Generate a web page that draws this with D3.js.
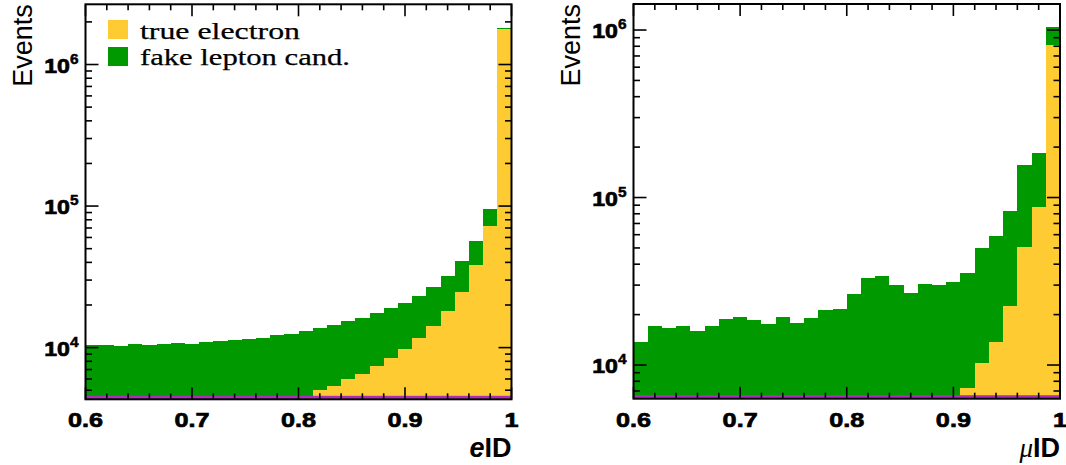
<!DOCTYPE html>
<html>
<head>
<meta charset="utf-8">
<script src="https://cdn.jsdelivr.net/npm/d3@7"></script>
<style>
  body { margin: 0; background: #fff; }
  svg { display: block; }
  .sans { font-family: 'Liberation Sans', Arial, Helvetica, sans-serif; }
  .serif { font-family: 'Liberation Serif', 'Times New Roman', serif; }
  .heavy { font-weight: 700; stroke: #000; stroke-width: 0.7px; }
</style>
</head>
<body>
<svg width="1066" height="465"></svg>
<script>
// binning: 30 equal bins from 0.6 to 1.0 (both panels)
var xMin = 0.6, xMax = 1.0, nBins = 30;

// electron ID panel, counts per bin (0 = below the visible range)
var eTrue = [0, 0, 0, 0, 0, 0, 0, 0, 0, 0,
             0, 0, 0, 0, 0, 4500, 5020, 5355, 5970, 6475,
             7413, 8445, 9775, 11630, 14280, 18140, 24710, 38140, 72650, 1790000];
var eFake = [10380, 10430, 10310, 10550, 10430, 10600, 10780, 10660, 10900, 11130,
             11250, 11560, 11630, 12210, 12410, 8670, 8740, 9085, 9360, 9715,
             10057, 10605, 10885, 11630, 12660, 14070, 16000, 18490, 22670, 30000];

// muon ID panel
var muTrue = [0, 0, 0, 0, 0, 0, 0, 0, 0, 0,
              0, 0, 0, 0, 0, 0, 0, 0, 0, 0,
              0, 0, 0, 7320, 10240, 13780, 22500, 50400, 87400, 812000];
var muFake = [13720, 17020, 16560, 17180, 15960, 17100, 18820, 19260, 18480, 17650,
              19260, 17810, 18990, 21200, 21670, 26700, 32900, 33850, 30170, 26800,
              30450, 29900, 31440, 28240, 39860, 45120, 60900, 105900, 96200, 226000];

var xTicks = [0.6, 0.7, 0.8, 0.9, 1];
var yTicks = [1e4, 1e5, 1e6];
var legendLabels = ["true electron", "fake lepton cand."];

var colTrue = "#fecb33", colFake = "#009900", colLine = "#b02cc0";

var svg = d3.select("svg");
var edges = d3.range(nBins + 1).map(function(i) { return xMin + i * (xMax - xMin) / nBins; });

function drawPanel(p) {
	var x = d3.scaleLinear().domain([xMin, xMax]).range([p.x0, p.x1]);
	var y = d3.scaleLog().domain([p.ymin, p.ymax]).range([p.y1, p.y0]);
	var g = svg.append("g");

	var bins = edges.slice(0, nBins).map(function(e, i) {
		return {lo: e, hi: edges[i + 1], t: p.trueVals[i], f: p.fakeVals[i]};
	});

	var bars = g.append("g").attr("shape-rendering", "crispEdges");
	// stacked: fake on top of true
	bars.selectAll("rect.fake")
		.data(bins)
		.enter().append("rect")
		.attr("class", "fake")
		.attr("x", function(d) { return x(d.lo); })
		.attr("width", function(d) { return x(d.hi) - x(d.lo); })
		.attr("y", function(d) { return y(d.t + d.f); })
		.attr("height", function(d) { return p.y1 - y(d.t + d.f); })
		.attr("fill", colFake);

	bars.selectAll("rect.true")
		.data(bins.filter(function(d) { return d.t > p.ymin; }))
		.enter().append("rect")
		.attr("class", "true")
		.attr("x", function(d) { return x(d.lo); })
		.attr("width", function(d) { return x(d.hi) - x(d.lo); })
		.attr("y", function(d) { return y(d.t); })
		.attr("height", function(d) { return p.y1 - y(d.t); })
		.attr("fill", colTrue);

	// thin purple histogram sitting on the bottom edge
	g.append("rect")
		.attr("x", p.x0).attr("width", p.x1 - p.x0)
		.attr("y", p.y1 - 3.5).attr("height", 3)
		.attr("fill", colLine);

	// ticks, drawn inward on all four sides
	var tk = g.append("g").attr("stroke", "#000").attr("stroke-width", 1.6);
	var xMinor = d3.range(0, 21).map(function(i) { return xMin + i * 0.02; });
	xMinor.forEach(function(v) {
		var major = xTicks.some(function(t) { return Math.abs(t - v) < 1e-6; });
		var len = major ? 12 : 6;
		tk.append("line").attr("x1", x(v)).attr("x2", x(v)).attr("y1", p.y1).attr("y2", p.y1 - len);
		tk.append("line").attr("x1", x(v)).attr("x2", x(v)).attr("y1", p.y0).attr("y2", p.y0 + len);
	});
	var yMinor = [];
	[1e3, 1e4, 1e5, 1e6].forEach(function(dec) {
		for (var k = 1; k <= 9; k++) {
			var v = k * dec;
			if (v >= p.ymin && v <= p.ymax) yMinor.push({v: v, major: k === 1});
		}
	});
	yMinor.forEach(function(d) {
		var len = d.major ? 13 : 6.5;
		tk.append("line").attr("x1", p.x0).attr("x2", p.x0 + len).attr("y1", y(d.v)).attr("y2", y(d.v));
		tk.append("line").attr("x1", p.x1).attr("x2", p.x1 - len).attr("y1", y(d.v)).attr("y2", y(d.v));
	});

	// frame
	g.append("rect")
		.attr("x", p.x0).attr("y", p.y0)
		.attr("width", p.x1 - p.x0).attr("height", p.y1 - p.y0)
		.attr("fill", "none").attr("stroke", "#000").attr("stroke-width", 2);

	// x tick labels (slightly wide, as in the original)
	g.selectAll("text.xl")
		.data(xTicks)
		.enter().append("text")
		.attr("class", "sans heavy")
		.attr("transform", function(d) { return "translate(" + x(d) + ",427) scale(1.2,1)"; })
		.attr("text-anchor", "middle")
		.style("font-size", "21px")
		.text(function(d) { return d; });

	// y tick labels 10^n
	var yl = g.selectAll("text.yl")
		.data(yTicks.filter(function(v) { return v >= p.ymin && v <= p.ymax; }))
		.enter().append("text")
		.attr("class", "sans heavy")
		.attr("transform", function(d) { return "translate(" + (p.x0 - 7) + "," + (y(d) + 8) + ") scale(1.1,1)"; })
		.attr("text-anchor", "end")
		.style("font-size", "21px");
	yl.append("tspan").text("10");
	yl.append("tspan")
		.style("font-size", "14px")
		.style("stroke-width", "0.5px")
		.attr("dy", -9)
		.text(function(d) { return Math.round(Math.log10(d)); });

	// axis titles
	g.append("text")
		.attr("class", "sans")
		.attr("transform", "translate(" + (p.x0 - 53.5) + "," + (p.y0) + ") rotate(-90)")
		.attr("text-anchor", "end")
		.style("font-size", "27px")
		.text("Events");

	var xt = g.append("text")
		.attr("class", "sans")
		.attr("x", p.x1)
		.attr("y", 457)
		.attr("text-anchor", "end")
		.style("font-weight", "700")
		.style("font-size", "27px");
	if (p.mu) {
		xt.append("tspan")
			.attr("class", "serif")
			.style("font-weight", "400")
			.style("font-style", "italic")
			.text("\u03bc");
	} else {
		xt.append("tspan").style("font-style", "italic").text("e");
	}
	xt.append("tspan").text("ID");
}

drawPanel({x0: 85.5, x1: 511.5, y0: 4.3, y1: 399.3, ymin: 4313, ymax: 2.663e6,
	trueVals: eTrue, fakeVals: eFake, mu: false});
drawPanel({x0: 633.5, x1: 1060, y0: 4, y1: 398.7, ymin: 6295, ymax: 1.43e6,
	trueVals: muTrue, fakeVals: muFake, mu: true});

// legend (left panel)
var leg = svg.append("g");
var legCols = [colTrue, colFake];
var legWidths = [160, 210];
leg.selectAll("rect")
	.data(legendLabels)
	.enter().append("rect")
	.attr("x", 108)
	.attr("y", function(d, i) { return 20 + i * 27; })
	.attr("width", 20)
	.attr("height", 19)
	.attr("fill", function(d, i) { return legCols[i]; });
leg.selectAll("text")
	.data(legendLabels)
	.enter().append("text")
	.attr("class", "serif")
	.attr("x", 140)
	.attr("y", function(d, i) { return 39 + i * 26; })
	.style("font-size", "24px")
	.style("stroke", "#000")
	.style("stroke-width", "0.25px")
	.attr("textLength", function(d, i) { return legWidths[i]; })
	.attr("lengthAdjust", "spacingAndGlyphs")
	.text(function(d) { return d; });
</script>
</body>
</html>
